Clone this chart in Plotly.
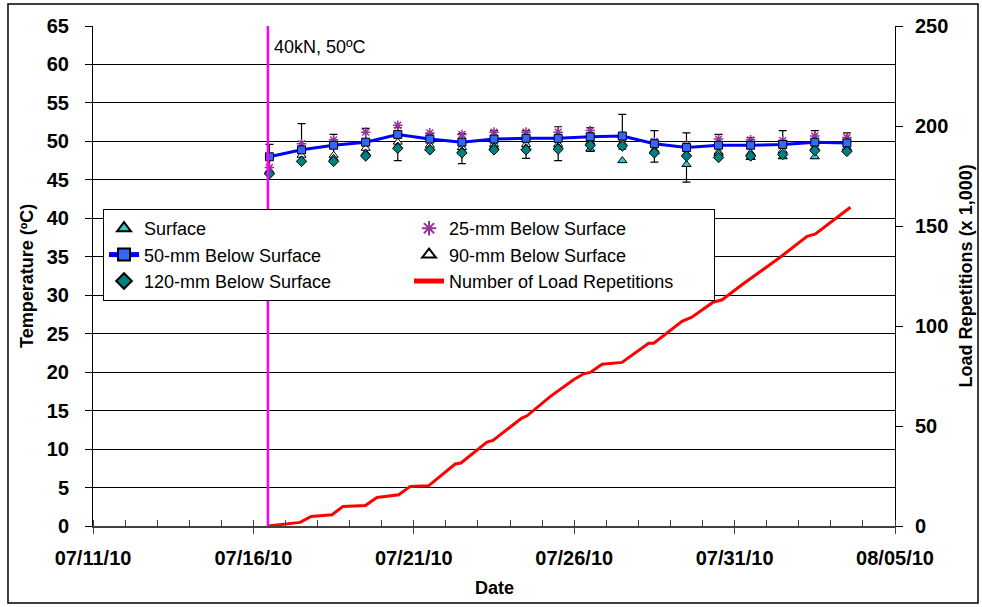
import plotly.graph_objects as go

# ---- data ----
temp_dates = ["2010-07-16 12:00", "2010-07-17 12:00", "2010-07-18 12:00", "2010-07-19 12:00",
              "2010-07-20 12:00", "2010-07-21 12:00", "2010-07-22 12:00", "2010-07-23 12:00",
              "2010-07-24 12:00", "2010-07-25 12:00", "2010-07-26 12:00", "2010-07-27 12:00",
              "2010-07-28 12:00", "2010-07-29 12:00", "2010-07-30 12:00", "2010-07-31 12:00",
              "2010-08-01 12:00", "2010-08-02 12:00", "2010-08-03 12:00"]
surface = [46.0, 47.6, 47.8, 48.5, 49.4, 49.1, 48.8, 49.3, 49.2, 49.3, 49.0, 47.5, 48.7, 47.0, 48.4, 47.9, 48.0, 48.0, 49.0]
mm25 = [46.6, 49.7, 50.2, 51.2, 52.1, 51.1, 50.9, 51.2, 51.2, 51.2, 51.4, 50.5, 50.0, 49.5, 50.3, 50.2, 50.1, 50.7, 50.5]
mm50 = [48.0, 48.9, 49.5, 49.9, 50.9, 50.3, 49.9, 50.3, 50.4, 50.4, 50.6, 50.7, 49.7, 49.2, 49.5, 49.5, 49.6, 49.9, 49.8]
mm90 = [46.2, 48.2, 48.2, 49.1, 49.9, 49.5, 49.2, 49.6, 49.6, 49.6, 49.9, 49.8, 48.9, 48.4, 48.6, 48.5, 48.8, 49.2, 49.2]
mm120 = [45.8, 47.4, 47.4, 48.1, 49.1, 48.9, 48.5, 48.9, 48.9, 49.0, 49.5, 49.4, 48.5, 48.1, 47.9, 48.1, 48.3, 48.8, 48.7]
range_hi = [49.6, 52.3, 50.9, 51.7, 51.8, 51.0, 51.0, 51.4, 51.4, 51.9, 51.8, 53.5, 51.4, 51.1, 50.9, 50.5, 51.4, 51.4, 51.1]
range_lo = [45.8, 47.4, 47.4, 48.1, 47.5, 48.9, 47.1, 48.9, 47.8, 47.5, 48.7, 49.0, 47.3, 44.7, 47.9, 48.0, 47.8, 47.8, 48.7]

load_dates = ["2010-07-16 10:50", "2010-07-17 11:00", "2010-07-17 19:10", "2010-07-18 10:50",
              "2010-07-18 19:00", "2010-07-19 11:45", "2010-07-19 20:25", "2010-07-20 12:45",
              "2010-07-20 21:20", "2010-07-21 11:00", "2010-07-22 07:00", "2010-07-22 11:15",
              "2010-07-23 06:45", "2010-07-23 11:15", "2010-07-24 08:50", "2010-07-24 12:45",
              "2010-07-25 06:15", "2010-07-25 23:30", "2010-07-26 07:00", "2010-07-26 12:00",
              "2010-07-26 20:50", "2010-07-27 11:45", "2010-07-28 07:40", "2010-07-28 11:30",
              "2010-07-29 08:40", "2010-07-29 16:00", "2010-07-30 07:55", "2010-07-30 14:40",
              "2010-07-31 05:30", "2010-08-01 10:05", "2010-08-02 06:15", "2010-08-02 12:30",
              "2010-08-03 14:40"]
load_reps = [0, 1.8, 4.8, 5.6, 9.8, 10.3, 14.3, 15.6, 19.8, 20.1, 31.0, 31.5, 42.0, 42.8, 54.0, 55.1,
             64.8, 73.1, 76.1, 76.8, 80.9, 81.8, 91.4, 91.4, 102.3, 104.4, 111.9, 113.1, 120.6,
             134.4, 144.8, 146.0, 159.4]

test_start = "2010-07-16 10:50"
test_label = "40kN, 50ºC"
x_ticks = ["2010-07-11", "2010-07-16", "2010-07-21", "2010-07-26", "2010-07-31", "2010-08-05"]
x_ticktext = ["07/11/10", "07/16/10", "07/21/10", "07/26/10", "07/31/10", "08/05/10"]

FONT = "Liberation Sans, Arial, sans-serif"

fig = go.Figure()

err_plus = [h - v for h, v in zip(range_hi, mm90)]
err_minus = [v - l for v, l in zip(mm90, range_lo)]

fig.add_trace(go.Scatter(
    x=temp_dates, y=mm90, mode="markers", name="90-mm Below Surface", legendrank=4,
    marker=dict(symbol="triangle-up", size=8, color="white", line=dict(color="black", width=1)),
    error_y=dict(type="data", array=err_plus, arrayminus=err_minus, color="black", thickness=1.2, width=4),
))
fig.add_trace(go.Scatter(
    x=temp_dates, y=surface, mode="markers", name="Surface", legendrank=1,
    marker=dict(symbol="triangle-up", size=8, color="#33CCCC", line=dict(color="black", width=1)),
))
fig.add_trace(go.Scatter(
    x=temp_dates, y=mm120, mode="markers", name="120-mm Below Surface", legendrank=5,
    marker=dict(symbol="diamond", size=8, color="#008080", line=dict(color="black", width=1)),
))
fig.add_trace(go.Scatter(
    x=temp_dates, y=mm25, mode="markers", name="25-mm Below Surface", legendrank=2,
    marker=dict(symbol="asterisk-open", size=8, color="#993399", line=dict(color="#993399", width=1.5)),
))
fig.add_trace(go.Scatter(
    x=temp_dates, y=mm50, mode="lines+markers", name="50-mm Below Surface", legendrank=3,
    line=dict(color="#0000FF", width=3),
    marker=dict(symbol="square", size=8, color="#3366FF", line=dict(color="black", width=1)),
))
fig.add_trace(go.Scatter(
    x=load_dates, y=load_reps, mode="lines", name="Number of Load Repetitions", legendrank=6,
    yaxis="y2", line=dict(color="#FF0000", width=3),
))

fig.add_shape(type="line", xref="x", yref="paper", x0=test_start, x1=test_start, y0=0, y1=1,
              line=dict(color="#FF00FF", width=2.5))
fig.add_annotation(x=test_start, y=0.958, xref="x", yref="paper", text=test_label, showarrow=False,
                   xanchor="left", yanchor="middle", xshift=4,
                   font=dict(family=FONT, size=18, color="black"))

# outer chart border
fig.add_shape(type="rect", xref="paper", yref="paper", x0=-0.106, x1=1.1035, y0=-0.154, y1=1.044,
              line=dict(color="black", width=1.5), fillcolor="rgba(0,0,0,0)", layer="below")

tickfont = dict(family=FONT, size=20, color="black", weight="bold")
titlefont = dict(family=FONT, size=18, color="black", weight="bold")

# axis titles as annotations for exact placement
fig.add_annotation(text="Temperature (ºC)", xref="paper", yref="paper", x=-0.0823, y=0.5,
                   textangle=-90, showarrow=False, xanchor="center", yanchor="middle", font=titlefont)
fig.add_annotation(text="Load Repetitions (x 1,000)", xref="paper", yref="paper", x=1.089, y=0.5,
                   textangle=-90, showarrow=False, xanchor="center", yanchor="middle", font=titlefont)
fig.add_annotation(text="Date", xref="paper", yref="paper", x=0.5, y=-0.123,
                   showarrow=False, xanchor="center", yanchor="middle", font=titlefont)

fig.update_layout(
    width=982, height=607,
    margin=dict(l=93, r=87, t=26, b=81),
    paper_bgcolor="white", plot_bgcolor="white",
    showlegend=True,
    legend=dict(
        orientation="h", x=0.0125, y=0.634, xanchor="left", yanchor="top",
        entrywidth=260, entrywidthmode="pixels",
        bgcolor="white", bordercolor="black", borderwidth=1,
        font=dict(family=FONT, size=18, color="black"),
        itemsizing="constant",
    ),
    xaxis=dict(
        type="date", range=["2010-07-11", "2010-08-05"],
        tickvals=x_ticks, ticktext=x_ticktext,
        ticks="outside", ticklen=6, tickcolor="#404040", tickwidth=1,
        minor=dict(ticks="inside", ticklen=6, dtick=86400000, tick0="2010-07-11", tickcolor="#404040", showgrid=False),
        showline=True, linecolor="#404040", linewidth=1.5,
        showgrid=False, zeroline=False,
        tickfont=tickfont, ticklabelstandoff=7,
    ),
    yaxis=dict(
        range=[0, 65], dtick=5, tick0=0,
        ticks="outside", ticklen=7, tickcolor="black",
        showline=True, linecolor="black", linewidth=1,
        showgrid=True, gridcolor="black", gridwidth=1, zeroline=False,
        tickfont=tickfont, ticklabelstandoff=12,
    ),
    yaxis2=dict(
        range=[0, 250], dtick=50, tick0=0, overlaying="y", side="right",
        ticks="outside", ticklen=7, tickcolor="black",
        showline=True, linecolor="black", linewidth=1,
        showgrid=False, zeroline=False,
        tickfont=tickfont, ticklabelstandoff=8,
    ),
)

fig.write_html("out.html", config={"displayModeBar": False},
               post_script="document.body.style.margin='0';document.body.style.padding='0';")
